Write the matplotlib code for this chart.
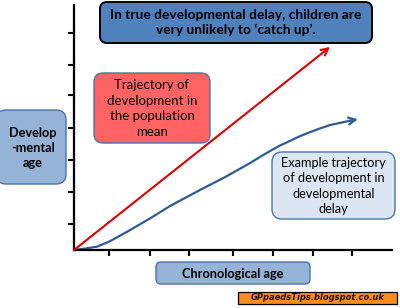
"""
Developmental delay diagram: population-mean trajectory vs delayed trajectory.
"""

import matplotlib
matplotlib.use("Agg")
import matplotlib.pyplot as plt
from matplotlib.patches import FancyBboxPatch, Rectangle

# ── data ─────────────────────────────────────────────────────────
mean_x = [0.0, 6.44]
mean_y = [0.0, 6.63]

delay_x = [0.0, 0.33, 0.58, 0.73, 0.91, 1.16, 1.41, 1.66, 1.91, 2.16, 2.42, 3.17,
           3.80, 4.43, 4.68, 4.93, 5.18, 5.43, 5.69, 5.94, 6.19, 6.44, 6.69, 6.94, 7.14]
delay_y = [0.0, 0.055, 0.11, 0.19, 0.29, 0.47, 0.65, 0.84, 1.03, 1.23, 1.44, 1.96,
           2.38, 2.84, 3.04, 3.23, 3.41, 3.56, 3.72, 3.85, 3.97, 4.08, 4.15, 4.22, 4.27]

x_ticks = [0.88, 1.9, 2.9, 4.0, 5.0, 6.0, 7.0]
y_ticks = [0.85, 1.9, 2.95, 4.0, 5.05, 6.05, 7.1]

RED = "#D90000"
BLUE = "#2E5B94"
MID_BLUE = "#4F81BD"
LIGHT_BLUE = "#95B3D7"
PALE_BLUE = "#DCE6F2"
EDGE = "#4A74A8"
FONT = ["Lato", "DejaVu Sans"]
FS = 9.2

W, H = 400, 308
fig = plt.figure(figsize=(W / 100, H / 100), dpi=100, facecolor="white")

# ── main axes ────────────────────────────────────────────────────
ax = fig.add_axes([74 / W, 58 / H, 318 / W, 245 / H])
ax.set_xlim(0, 8)
ax.set_ylim(0, 8)
for side in ("top", "right"):
    ax.spines[side].set_visible(False)
for side in ("left", "bottom"):
    ax.spines[side].set_linewidth(1.6)
ax.set_xticks(x_ticks)
ax.set_yticks(y_ticks)
ax.tick_params(length=4.5, width=1.5, labelbottom=False, labelleft=False)

ax.annotate("", xy=(mean_x[1], mean_y[1]), xytext=(mean_x[0], mean_y[0]),
            arrowprops=dict(arrowstyle="->,head_length=0.5,head_width=0.25",
                            color=RED, lw=1.5, shrinkA=0, shrinkB=0),
            annotation_clip=False)

ax.plot(delay_x[:-1], delay_y[:-1], color=BLUE, lw=1.6, solid_capstyle="round",
        solid_joinstyle="round", clip_on=False)
ax.annotate("", xy=(delay_x[-1], delay_y[-1]), xytext=(delay_x[-2], delay_y[-2]),
            arrowprops=dict(arrowstyle="->,head_length=0.5,head_width=0.25",
                            color=BLUE, lw=1.6, shrinkA=0, shrinkB=0),
            annotation_clip=False)

# ── overlay in pixel coordinates for the callout boxes ───────────
ov = fig.add_axes([0, 0, 1, 1], facecolor="none")
ov.set_xlim(0, W)
ov.set_ylim(H, 0)
ov.axis("off")


def box(x0, y0, x1, y1, face, edge, lw=1.0, pad=8):
    p = FancyBboxPatch((x0 + pad, y0 + pad), (x1 - x0) - 2 * pad, (y1 - y0) - 2 * pad,
                       boxstyle=f"round,pad={pad}", fc=face, ec=edge, lw=lw)
    ov.add_patch(p)


box(100, 2, 372, 43, MID_BLUE, "black", lw=1.4, pad=7)
ov.text(236, 22.5, "In true developmental delay, children are\nvery unlikely to \u2018catch up\u2019.",
        ha="center", va="center", fontsize=9.9, fontweight="bold", family=FONT,
        linespacing=1.28)

box(94, 73, 210, 143, "#FF6464", EDGE, lw=1.0, pad=9)
ov.text(152, 108.5, "Trajectory of\ndevelopment in\nthe population\nmean",
        ha="center", va="center", fontsize=9.5, family=FONT, linespacing=1.34)

box(-4, 110, 66, 184, LIGHT_BLUE, EDGE, lw=1.0, pad=10)
ov.text(33, 148, "Develop\n-mental\nage", ha="center", va="center",
        fontsize=FS, fontweight="bold", family=FONT, linespacing=1.3)

box(156, 262, 310, 284, LIGHT_BLUE, EDGE, lw=1.0, pad=5)
ov.text(233, 273.5, "Chronological age", ha="center", va="center",
        fontsize=FS, fontweight="bold", family=FONT)

box(272, 152, 395, 219, PALE_BLUE, EDGE, lw=1.0, pad=10)
ov.text(333.5, 186, "Example trajectory\nof development in\ndevelopmental\ndelay",
        ha="center", va="center", fontsize=FS, family=FONT, linespacing=1.36)

ov.add_patch(Rectangle((238, 292), 159, 12, fc="#F98E1E", ec="black", lw=0.9))
ov.text(317.5, 298, "GPpaedsTips.blogspot.co.uk", ha="center", va="center",
        fontsize=6.0, fontweight="bold", fontstyle="italic", color="#151530",
        family="DejaVu Sans")

fig.savefig("out.png", dpi=100, facecolor="white")
